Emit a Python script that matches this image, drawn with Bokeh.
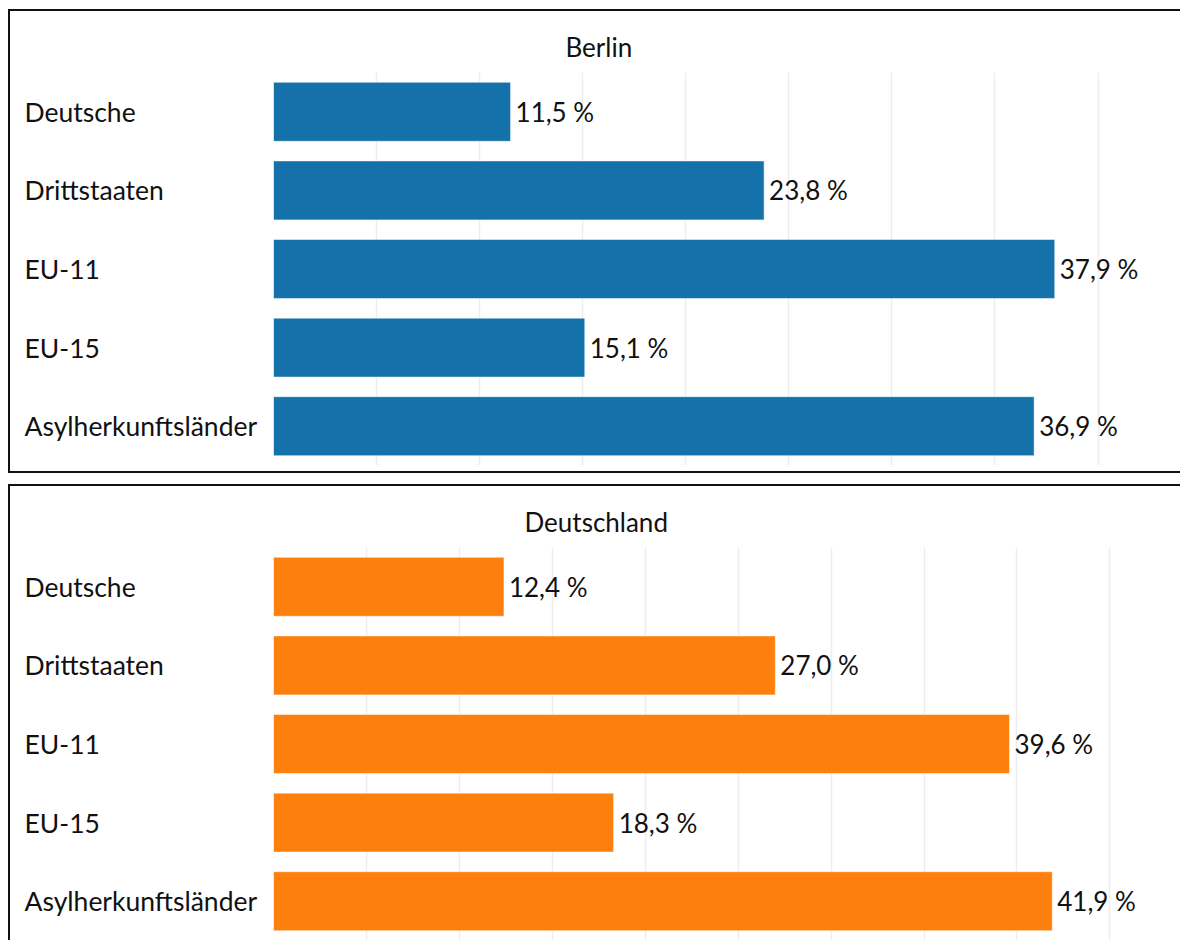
from bokeh.plotting import figure
from bokeh.models import ColumnDataSource, LabelSet, Range1d, FactorRange, SingleIntervalTicker
from bokeh.layouts import row
from bokeh.core.properties import value
from bokeh.embed import file_html
from bokeh.resources import INLINE
from bokeh.layouts import column

categories = ["Deutsche", "Drittstaaten", "EU-11", "EU-15", "Asylherkunftsländer"]
berlin = [11.5, 23.8, 37.9, 15.1, 36.9]
deutschland = [12.4, 27.0, 39.6, 18.3, 41.9]
panel_titles = ["Berlin", "Deutschland"]
colors = ["#1571a9", "#fd7f0d"]
x_max = [44.0, 48.8]
title_offsets = [292, 251]

FONT = "Lato"
TEXT_COLOR = "#111111"
LABEL_W = 263
BAR_W = 907


def make_panel(title, values, color, xmax, toff, height, margin, bottom_border):
    src = ColumnDataSource(dict(
        cat=categories,
        val=values,
        lab=[f"{v:.1f}".replace(".", ",") + " %" for v in values],
    ))
    yr = FactorRange(factors=list(reversed(categories)))
    bb = 6 if bottom_border else 0

    # left figure: category labels
    pl = figure(width=LABEL_W, height=height, y_range=yr, x_range=Range1d(0, 1),
                x_axis_location=None, y_axis_location=None,
                output_backend="svg", toolbar_location=None,
                min_border_left=0, min_border_right=0,
                min_border_top=61, min_border_bottom=bb)
    pl.outline_line_color = None
    pl.xgrid.visible = False
    pl.ygrid.visible = False
    pl.text(x=0, y="cat", text="cat", source=src, x_offset=14,
            text_baseline="middle", text_align="left",
            text_font=value(FONT), text_font_size="26.5px", text_color=TEXT_COLOR)

    # right figure: bars
    p = figure(width=BAR_W, height=height, y_range=yr, x_range=Range1d(0, xmax),
               x_axis_location=None, y_axis_location=None,
               output_backend="svg", toolbar_location=None,
               min_border_left=0, min_border_right=0,
               min_border_top=61, min_border_bottom=bb)
    p.title.text = title
    p.title.align = "left"
    p.title.offset = toff
    p.title.standoff = 20
    p.title.text_font = FONT
    p.title.text_font_size = "26px"
    p.title.text_font_style = "normal"
    p.title.text_color = TEXT_COLOR
    p.outline_line_color = None
    p.ygrid.visible = False
    p.xgrid.ticker = SingleIntervalTicker(interval=5)
    p.xgrid.grid_line_color = "#ededed"
    p.xgrid.grid_line_width = 1.5
    p.hbar(y="cat", right="val", left=0, height=0.75, source=src,
           fill_color=color, line_color="white", line_alpha=0.5, line_width=1)
    p.add_layout(LabelSet(x="val", y="cat", text="lab", source=src, x_offset=5,
                          text_baseline="middle", text_align="left",
                          text_font=value(FONT), text_font_size=value("26px"),
                          text_color=TEXT_COLOR))

    panel = row(pl, p, spacing=0)
    st = {"border-top": "2px solid #111", "border-left": "2px solid #111"}
    if bottom_border:
        st["border-bottom"] = "2px solid #111"
    panel.styles = st
    panel.margin = margin
    return panel


r1 = make_panel(panel_titles[0], berlin, colors[0], x_max[0], title_offsets[0], 460, (9, 0, 0, 8), True)
r2 = make_panel(panel_titles[1], deutschland, colors[1], x_max[1], title_offsets[1], 454, (11, 0, 0, 8), False)

layout = column(r1, r2, spacing=0)
open("out.html", "w").write(file_html(layout, INLINE))
